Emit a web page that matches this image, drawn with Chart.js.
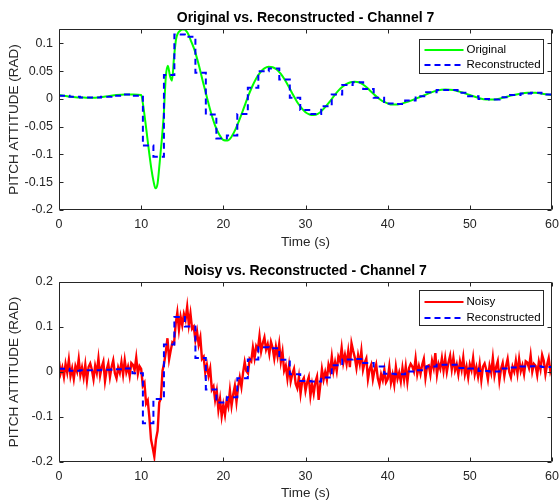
<!DOCTYPE html>
<html><head><meta charset="utf-8">
<script src="https://cdn.jsdelivr.net/npm/chart.js@4"></script>
<style>
html,body{margin:0;padding:0;background:#fff;}
#wrap{position:relative;width:560px;height:502px;}
canvas{position:absolute;left:0;}
</style></head><body>
<div id="wrap">
<canvas id="c1" width="560" height="251" style="top:0px"></canvas>
<canvas id="c2" width="560" height="251" style="top:251px"></canvas>
</div>
<script>
// ---------- data ----------
const origT = [0,1,2,3,4,5,6,7,8,9,10,10.25,10.5,10.75,11,11.25,11.5,11.75,12,12.25,12.5,12.75,13,13.25,13.5,13.75,14,14.25,14.5,14.75,15,15.25,15.5,15.75,16,16.5,17,17.5,18,18.5,19,19.5,20,20.5,21,21.5,22,22.5,23,23.5,24,24.5,25,25.5,26,26.5,27,27.5,28,28.5,29,29.5,30,30.5,31,31.5,32,32.5,33,33.5,34,34.5,35,35.5,36,36.5,37,37.5,38,38.5,39,39.5,40,40.5,41,41.5,42,43,44,45,46,47,48,49,50,51,52,53,54,55,56,57,58,59,60];
const origV = [0.007,0.005,0.003,0.0025,0.002,0.003,0.005,0.007,0.008,0.008,0.007,-0.012,-0.040,-0.070,-0.100,-0.127,-0.148,-0.161,-0.152,-0.115,-0.075,-0.028,0.040,0.060,0.042,0.033,0.075,0.108,0.119,0.123,0.125,0.125,0.122,0.116,0.107,0.088,0.062,0.032,0.003,-0.025,-0.048,-0.064,-0.074,-0.075,-0.068,-0.054,-0.036,-0.016,0.004,0.022,0.037,0.048,0.055,0.058,0.057,0.053,0.045,0.034,0.021,0.007,-0.006,-0.016,-0.024,-0.028,-0.029,-0.027,-0.021,-0.013,-0.004,0.006,0.015,0.022,0.027,0.030,0.031,0.030,0.026,0.020,0.013,0.006,0.000,-0.005,-0.008,-0.010,-0.010,-0.009,-0.007,-0.002,0.004,0.010,0.015,0.017,0.016,0.012,0.007,0.002,-0.001,-0.001,0.002,0.006,0.009,0.011,0.011,0.009,0.007];

const reconT = [0,1.28,2.55,3.83,5.11,6.38,7.66,8.94,10.21,11.49,12.77,14.04,15.32,16.60,17.87,19.15,20.43,21.70,22.98,24.26,25.53,26.81,28.09,29.36,30.64,31.91,33.19,34.47,35.74,37.02,38.30,39.57,40.85,42.13,43.40,44.68,45.96,47.23,48.51,49.79,51.06,52.34,53.62,54.89,56.17,57.45,58.72,60];
const reconTopV = [0.006,0.004,0.0025,0.0025,0.004,0.006,0.008,0.006,-0.084,-0.104,0.043,0.116,0.112,0.047,-0.028,-0.071,-0.066,-0.027,0.020,0.050,0.055,0.035,0.002,-0.020,-0.027,-0.013,0.008,0.025,0.030,0.018,0.002,-0.008,-0.009,-0.003,0.005,0.012,0.016,0.016,0.011,0.005,0.000,-0.001,0.003,0.007,0.010,0.011,0.008,0.008];
const reconBotV = [0.007,0.003,0.004,0.004,0.005,0.006,0.008,-0.003,-0.114,-0.060,0.061,0.122,0.101,0.031,-0.039,-0.068,-0.056,-0.014,0.028,0.055,0.053,0.027,-0.005,-0.020,-0.021,-0.012,0.015,0.028,0.029,0.020,0.012,-0.004,-0.005,0.001,0.004,0.012,0.016,0.016,0.009,0.008,0.002,0.001,0.008,0.010,0.012,0.013,0.011,0.011];

const noisyDt = 0.2; // sample interval of the noisy record (s)
const noisyV = [
0.024,-0.003,0.010,-0.011,0.018, -0.001,0.027,-0.009,0.008,-0.015, 0.013,0.001,0.029,-0.007,0.010,
-0.012,0.016,-0.019,0.011,0.019, 0.005,-0.016,0.014,-0.002,0.030, -0.008,0.011,0.023,-0.020,0.005,
0.019,-0.011,0.011,0.026,-0.003, -0.014,0.010,-0.002,0.022,-0.006, 0.026,-0.001,0.012,-0.009,0.020,
0.016,0.004,0.032,-0.004,0.013, 0.007,-0.031,-0.024,-0.070,-0.063, -0.101,-0.150,-0.168,-0.188,-0.150,
-0.131,-0.068,-0.059,0.003,0.020, 0.045,0.075,0.028,0.048,0.066, 0.063,0.107,0.132,0.094,0.123,
0.104,0.129,0.116,0.145,0.105, 0.130,0.096,0.101,0.071,0.090, 0.061,0.077,0.029,0.034,-0.001,
0.016,-0.008,0.008,-0.039,-0.032, -0.062,-0.042,-0.084,-0.060,-0.098, -0.073,-0.095,-0.064,-0.077,-0.041,
-0.075,-0.050,-0.031,-0.066,-0.033, -0.012,-0.033,-0.002,0.022,0.002, -0.003,0.029,0.024,0.054,0.031,
0.057,0.049,0.080,0.046,0.064, 0.077,0.050,0.062,0.040,0.067, 0.054,0.030,0.056,0.035,0.062,
0.023,0.045,0.003,0.014,-0.015, 0.014,-0.021,-0.004,0.007,-0.026, -0.036,-0.011,-0.048,-0.020,-0.013,
-0.042,-0.023,-0.011,-0.053,-0.027, -0.048,-0.022,-0.010,-0.062,-0.029, 0.006,-0.017,0.000,-0.017,0.016,
0.002,0.034,0.002,0.022,0.002, 0.034,0.024,0.054,0.020,0.038, 0.018,0.046,0.011,0.064,0.047,
0.032,0.009,0.037,0.018,0.047, 0.005,0.021,0.030,-0.016,0.006, 0.016,-0.016,0.004,0.017,-0.014,
-0.028,-0.005,-0.018,0.005,-0.023, -0.016,0.012,-0.024,-0.006,-0.028, 0.011,-0.015,-0.001,-0.021,0.009,
-0.017,0.012,-0.022,0.009,0.018, 0.012,0.001,0.030,-0.005,0.013, -0.004,0.016,0.029,-0.013,0.013,
0.015,-0.006,0.025,0.009,0.042, -0.006,0.018,0.007,0.031,0.003, 0.030,0.000,0.021,0.036,0.006,
0.032,0.004,0.017,-0.005,0.023, 0.005,0.032,-0.005,0.012,-0.012, 0.017,0.004,0.031,-0.005,0.011,
-0.010,0.017,-0.018,0.012,0.019, 0.005,-0.016,0.014,-0.002,0.031, -0.008,0.011,0.024,-0.019,0.007,
0.020,-0.009,0.013,0.029,0.000, -0.012,0.012,0.001,0.025,-0.003, 0.029,0.002,0.015,-0.005,0.024,
0.021,0.009,0.037,0.001,0.018, 0.014,-0.007,0.023,0.006,0.038, 0.025,-0.005,0.016,0.031,0.002,
0.015];

const xTicks = [0,10,20,30,40,50,60];
const yTicksTop = [-0.2,-0.15,-0.1,-0.05,0,0.05,0.1];
const yTicksBot = [-0.2,-0.1,0,0.1,0.2];
const titleTop = 'Original vs. Reconstructed - Channel 7';
const titleBot = 'Noisy vs. Reconstructed - Channel 7';
const xLabel = 'Time (s)';
const yLabel = 'PITCH ATTITUDE (RAD)';

// ---------- helpers ----------
const pts = (xs, ys) => ys.map((v, i) => ({x: xs[i], y: v}));
const FONT = '"Liberation Sans", Arial, Helvetica, sans-serif';
const AX = '#262626';
Chart.defaults.font.family = FONT;
Chart.defaults.color = AX;

const framePlugin = {
  id: 'frame',
  afterDraw(chart, args, opts) {
    const {ctx, chartArea: a, scales} = chart;
    ctx.save();
    const L = Math.round(a.left) + 0.5, T = Math.round(a.top) + 0.5;
    const R = Math.round(a.right) - 0.5, B = Math.round(a.bottom) - 0.5;
    ctx.strokeStyle = AX; ctx.lineWidth = 1;
    ctx.beginPath();
    ctx.rect(L, T, R - L, B - T);
    const tl = 4;
    scales.x.ticks.forEach(t => {
      const px = Math.round(scales.x.getPixelForValue(t.value)) + 0.5;
      ctx.moveTo(px, B); ctx.lineTo(px, B - tl);
      ctx.moveTo(px, T); ctx.lineTo(px, T + tl);
    });
    scales.y.ticks.forEach(t => {
      const py = Math.round(scales.y.getPixelForValue(t.value)) + 0.5;
      ctx.moveTo(L, py); ctx.lineTo(L + tl, py);
      ctx.moveTo(R, py); ctx.lineTo(R - tl, py);
    });
    ctx.stroke();
    // legend box
    const lg = opts.legend;
    const bx = Math.round(a.right - lg.right - lg.w) + 0.5;
    const by = Math.round(a.top + lg.top) + 0.5;
    ctx.fillStyle = '#fff';
    ctx.fillRect(bx, by, lg.w, lg.h);
    ctx.strokeStyle = AX; ctx.lineWidth = 1; ctx.setLineDash([]);
    ctx.strokeRect(bx, by, lg.w, lg.h);
    chart.data.datasets.forEach((ds, i) => {
      const ry = Math.round(by + lg.rows[i]);
      ctx.save();
      ctx.strokeStyle = ds.borderColor;
      ctx.lineWidth = 2;
      ctx.setLineDash(ds.borderDash || []);
      ctx.beginPath();
      ctx.moveTo(bx + 5, ry); ctx.lineTo(bx + 44, ry);
      ctx.stroke();
      ctx.restore();
      ctx.fillStyle = '#000';
      ctx.font = '11.5px ' + FONT;
      ctx.textBaseline = 'middle';
      ctx.textAlign = 'left';
      ctx.fillText(ds.label, bx + 47, ry);
    });
    ctx.restore();
  }
};

function makeChart(id, datasets, yMin, yMax, yTicks, title, tpad, xh, legend) {
  return new Chart(document.getElementById(id), {
    type: 'scatter',
    data: {datasets},
    plugins: [framePlugin],
    options: {
      responsive: false, animation: false, devicePixelRatio: 1,
      layout: {padding: {left: 0, right: 8, top: 0, bottom: 0}},
      elements: {point: {radius: 0, hoverRadius: 0}},
      plugins: {
        legend: {display: false},
        tooltip: {enabled: false},
        title: {display: true, text: title, fullSize: false, color: '#000',
                font: {size: 14, weight: 'bold'}, padding: tpad},
        frame: {legend}
      },
      scales: {
        x: {
          type: 'linear', min: 0, max: 60,
          afterBuildTicks: s => { s.ticks = xTicks.map(v => ({value: v})); },
          afterFit: s => { s.height = xh; s.paddingLeft = 0; s.paddingRight = 0; },
          grid: {display: false, drawTicks: false},
          border: {display: false},
          ticks: {padding: 7, color: AX, font: {size: 12.5}, maxRotation: 0, autoSkip: false,
                  callback: v => String(v)},
          title: {display: true, text: xLabel, color: AX, font: {size: 13.5}, padding: {top: 0, bottom: 1}}
        },
        y: {
          type: 'linear', min: yMin, max: yMax,
          afterBuildTicks: s => { s.ticks = yTicks.map(v => ({value: v})); },
          afterFit: s => { s.width = 59; },
          grid: {display: false, drawTicks: false},
          border: {display: false},
          ticks: {padding: 6, color: AX, font: {size: 12.5}, autoSkip: false,
                  callback: v => String(v)},
          title: {display: true, text: yLabel, color: AX, font: {size: 13.5}, padding: {top: 6, bottom: 0}}
        }
      }
    }
  });
}

makeChart('c1', [
  {label: 'Original', data: pts(origT, origV), showLine: true, borderColor: '#00ff00',
   borderWidth: 2, cubicInterpolationMode: 'monotone', tension: 0.4, order: 1},
  {label: 'Reconstructed', data: pts(reconT, reconTopV), showLine: true, borderColor: '#0000ff',
   borderWidth: 2, borderDash: [6, 4], stepped: 'before', order: 0}
], -0.2, 0.126, yTicksTop, titleTop, {top: 9.6, bottom: 2.6}, 41,
  {right: 9, top: 10, w: 124, h: 34, rows: [10, 25]});

makeChart('c2', [
  {label: 'Noisy', data: noisyV.map((v, i) => ({x: i * noisyDt, y: v})), showLine: true,
   borderColor: '#ff0000', borderWidth: 2.4, tension: 0, order: 1},
  {label: 'Reconstructed', data: pts(reconT, reconBotV), showLine: true, borderColor: '#0000ff',
   borderWidth: 2, borderDash: [6, 4], stepped: 'before', order: 0}
], -0.2, 0.2, yTicksBot, titleBot, {top: 11.6, bottom: 2.6}, 40,
  {right: 9, top: 8, w: 124, h: 35, rows: [11, 27]});
</script>
</body></html>
